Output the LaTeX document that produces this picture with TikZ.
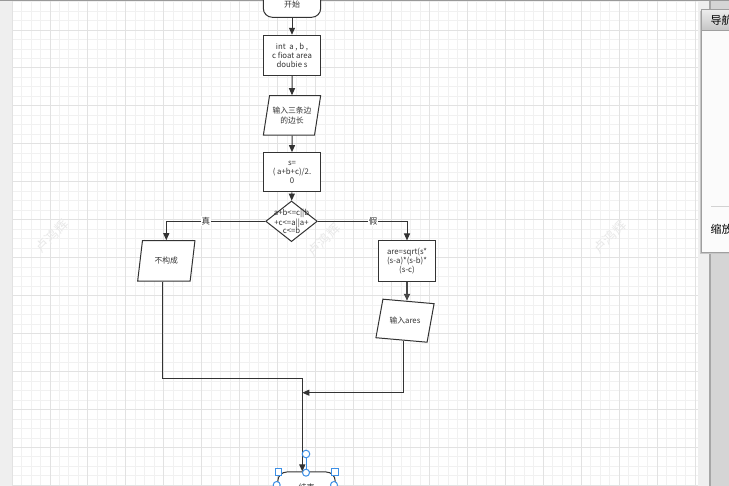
\documentclass[tikz,border=0pt]{standalone}
\usepackage{fontspec}
\setmainfont{Noto Sans CJK SC}
\usetikzlibrary{arrows.meta,positioning,calc,shapes.geometric}
\definecolor{ink}{HTML}{333333}
\definecolor{gridfine}{HTML}{F1F1F1}
\definecolor{gridbold}{HTML}{E2E2E2}
\definecolor{sidebar}{HTML}{EFEFEF}
\definecolor{dock}{HTML}{D5D5D5}
\definecolor{handle}{HTML}{3C8FE6}
\definecolor{stamp}{HTML}{E8E8E8}

\tikzset{
  procbox/.style={draw=ink, line width=1pt, fill=white, minimum width=57.4pt, minimum height=40pt,
    inner sep=0pt, align=center, font=\fontsize{7.8}{9.2}\selectfont, text=ink},
  iobox/.style={trapezium, trapezium stretches=true, trapezium left angle=72, trapezium right angle=108,
    draw=ink, line width=1pt, fill=white, minimum width=57.4pt, minimum height=39.5pt,
    inner sep=0pt, align=center, font=\fontsize{7.8}{9.2}\selectfont, text=ink},
  termbox/.style={draw=ink, line width=1pt, fill=white, rounded corners=9pt, minimum width=57.4pt,
    inner sep=0pt, font=\fontsize{8}{9}\selectfont, text=ink},
  decision/.style={diamond, draw=ink, line width=1pt, fill=white, minimum width=51.6pt,
    minimum height=40.7pt, inner sep=0pt},
  flow/.style={draw=ink, line width=1pt, -{Triangle[length=7pt,width=6pt]}},
  branch/.style={font=\fontsize{8.5}{9}\selectfont, text=ink, fill=white, inner sep=1pt},
  stampnote/.style={font=\fontsize{13}{13}\selectfont, text=stamp, rotate=45},
  navtext/.style={font=\fontsize{11}{11}\selectfont, text=black, anchor=west, inner sep=0pt},
}

\begin{document}
\begin{tikzpicture}[x=1pt, y=-1pt]
  \useasboundingbox (0,0) rectangle (729,486);
  \clip (0,0) rectangle (729,486);

  % Canvas and grid
  \fill[sidebar] (0,0) rectangle (12,486);
  \fill[white] (12,0) rectangle (697.7,486);
  \foreach \i in {1,...,72}
    \draw[gridfine, line width=0.9pt] ({12+9.4875*\i},0) -- ++(0,486);
  \foreach \j in {1,...,52}
    \draw[gridfine, line width=0.9pt] (12,{-7.95+9.4875*\j}) -- (697.7,{-7.95+9.4875*\j});
  \foreach \i in {0,...,18}
    \draw[gridbold, line width=0.9pt] ({12+37.95*\i},0) -- ++(0,486);
  \foreach \j in {1,...,13}
    \draw[gridbold, line width=0.9pt] (12,{-7.95+37.95*\j}) -- (697.7,{-7.95+37.95*\j});
  \fill[sidebar] (697.7,0) rectangle (709.3,486);
  \fill[dock] (709.3,0) rectangle (729,486);
  \draw[gray!70, line width=1.2pt] (710,0) -- (710,486);
  \fill[gray!80] (0,0) rectangle (729,1.3);

  % Watermarks
  \node[stampnote] (wm1) at (52,236) {卢鸿辉};
  \node[stampnote] (wm2) at (324,240) {卢鸿辉};
  \node[stampnote] (wm3) at (610,237) {卢鸿辉};

  % Main column
  \node[termbox, minimum height=26.6pt] (start) at (292,4) {开始};
  \node[procbox] (decl) at (292,55.3) {int \ a , b ,\\c fioat area\\doubie s};
  \node[iobox] (input) at (292,115.5) {输入三条边\\的边长};
  \node[procbox, minimum height=39.3pt] (half) at (292,172.3) {s=\\( a+b+c)/2.\\0};
  \node[decision] (test) at (291.5,221.3) {};
  \node[align=center, font=\fontsize{7.8}{8.7}\selectfont, text=ink, inner sep=0pt] (testtxt) at (test) {a+b<=c||b\\+c<=a||a+\\c<=b};

  % Branches
  \node[iobox, minimum height=40.3pt] (nobox) at (166.3,260.9) {不构成};
  \node[procbox, minimum height=40.7pt] (area) at (407,261.3) {are=sqrt(s*\\(s-a)*(s-b)*\\(s-c)};
  \node[iobox, minimum width=55pt, minimum height=39pt, rotate=-5] (outbox) at (405,320.7) {\phantom{输入ares}};
  \node[font=\fontsize{7.8}{9}\selectfont, text=ink, inner sep=0pt] (outtxt) at (outbox) {输入ares};
  \node[termbox, minimum height=30pt] (stop) at (306.5,487) {结束};

  \coordinate (j1) at (302.3,378.3);
  \coordinate (j2) at (302.3,392.7);

  \draw[flow] (start) -- (decl);
  \draw[flow] (decl) -- (input);
  \draw[flow] (input) -- (half);
  \draw[flow] (half) -- (test);
  \draw[flow] (test.west) -| (nobox.north) node[branch, pos=0.3] {真};
  \draw[flow] (test.east) -| (area.north) node[branch, pos=0.31] {假};
  \draw[flow, line width=1.8pt, draw=ink!90] (area.south) -- (area.south |- outbox.north);
  \draw[flow] ([xshift=-4pt]nobox.south) |- (j1) -- (j1 |- stop.north);
  \draw[flow] (outbox.south) |- (j2);

  % Selection handles
  \draw[handle, line width=1pt] (306,458) -- (306,472.7);
  \draw[handle, line width=1pt, fill=white] (306,454) circle (3.8);
  \foreach \hx in {278.3,335}
    \draw[handle, line width=1pt, fill=white] (\hx-3.3,472.3-3.3) rectangle (\hx+3.3,472.3+3.3);
  \foreach \hx/\hy in {306/472.7, 276.7/485, 334/485}
    \draw[handle, line width=1pt, fill=white] (\hx,\hy) circle (3.5);

  % Navigation panel
  \fill[gray!45] (700.2,11) rectangle (729,254);
  \fill[gray!3] (701.7,10) rectangle (735,252.3);
  \shade[top color=gray!15, bottom color=gray!45] (701.7,10) rectangle (735,30);
  \draw[gray!75, line width=1pt] (735,10) -- (701.7,10) -- (701.7,252.3) -- (735,252.3);
  \draw[gray!75, line width=0.8pt] (701.7,30) -- (735,30);
  \draw[gray!35, line width=0.8pt] (711,206.7) -- (735,206.7);
  \node[navtext] (navtitle) at (710.5,20) {导航};
  \node[navtext] (navzoom) at (710.5,229) {缩放};
\end{tikzpicture}
\end{document}
